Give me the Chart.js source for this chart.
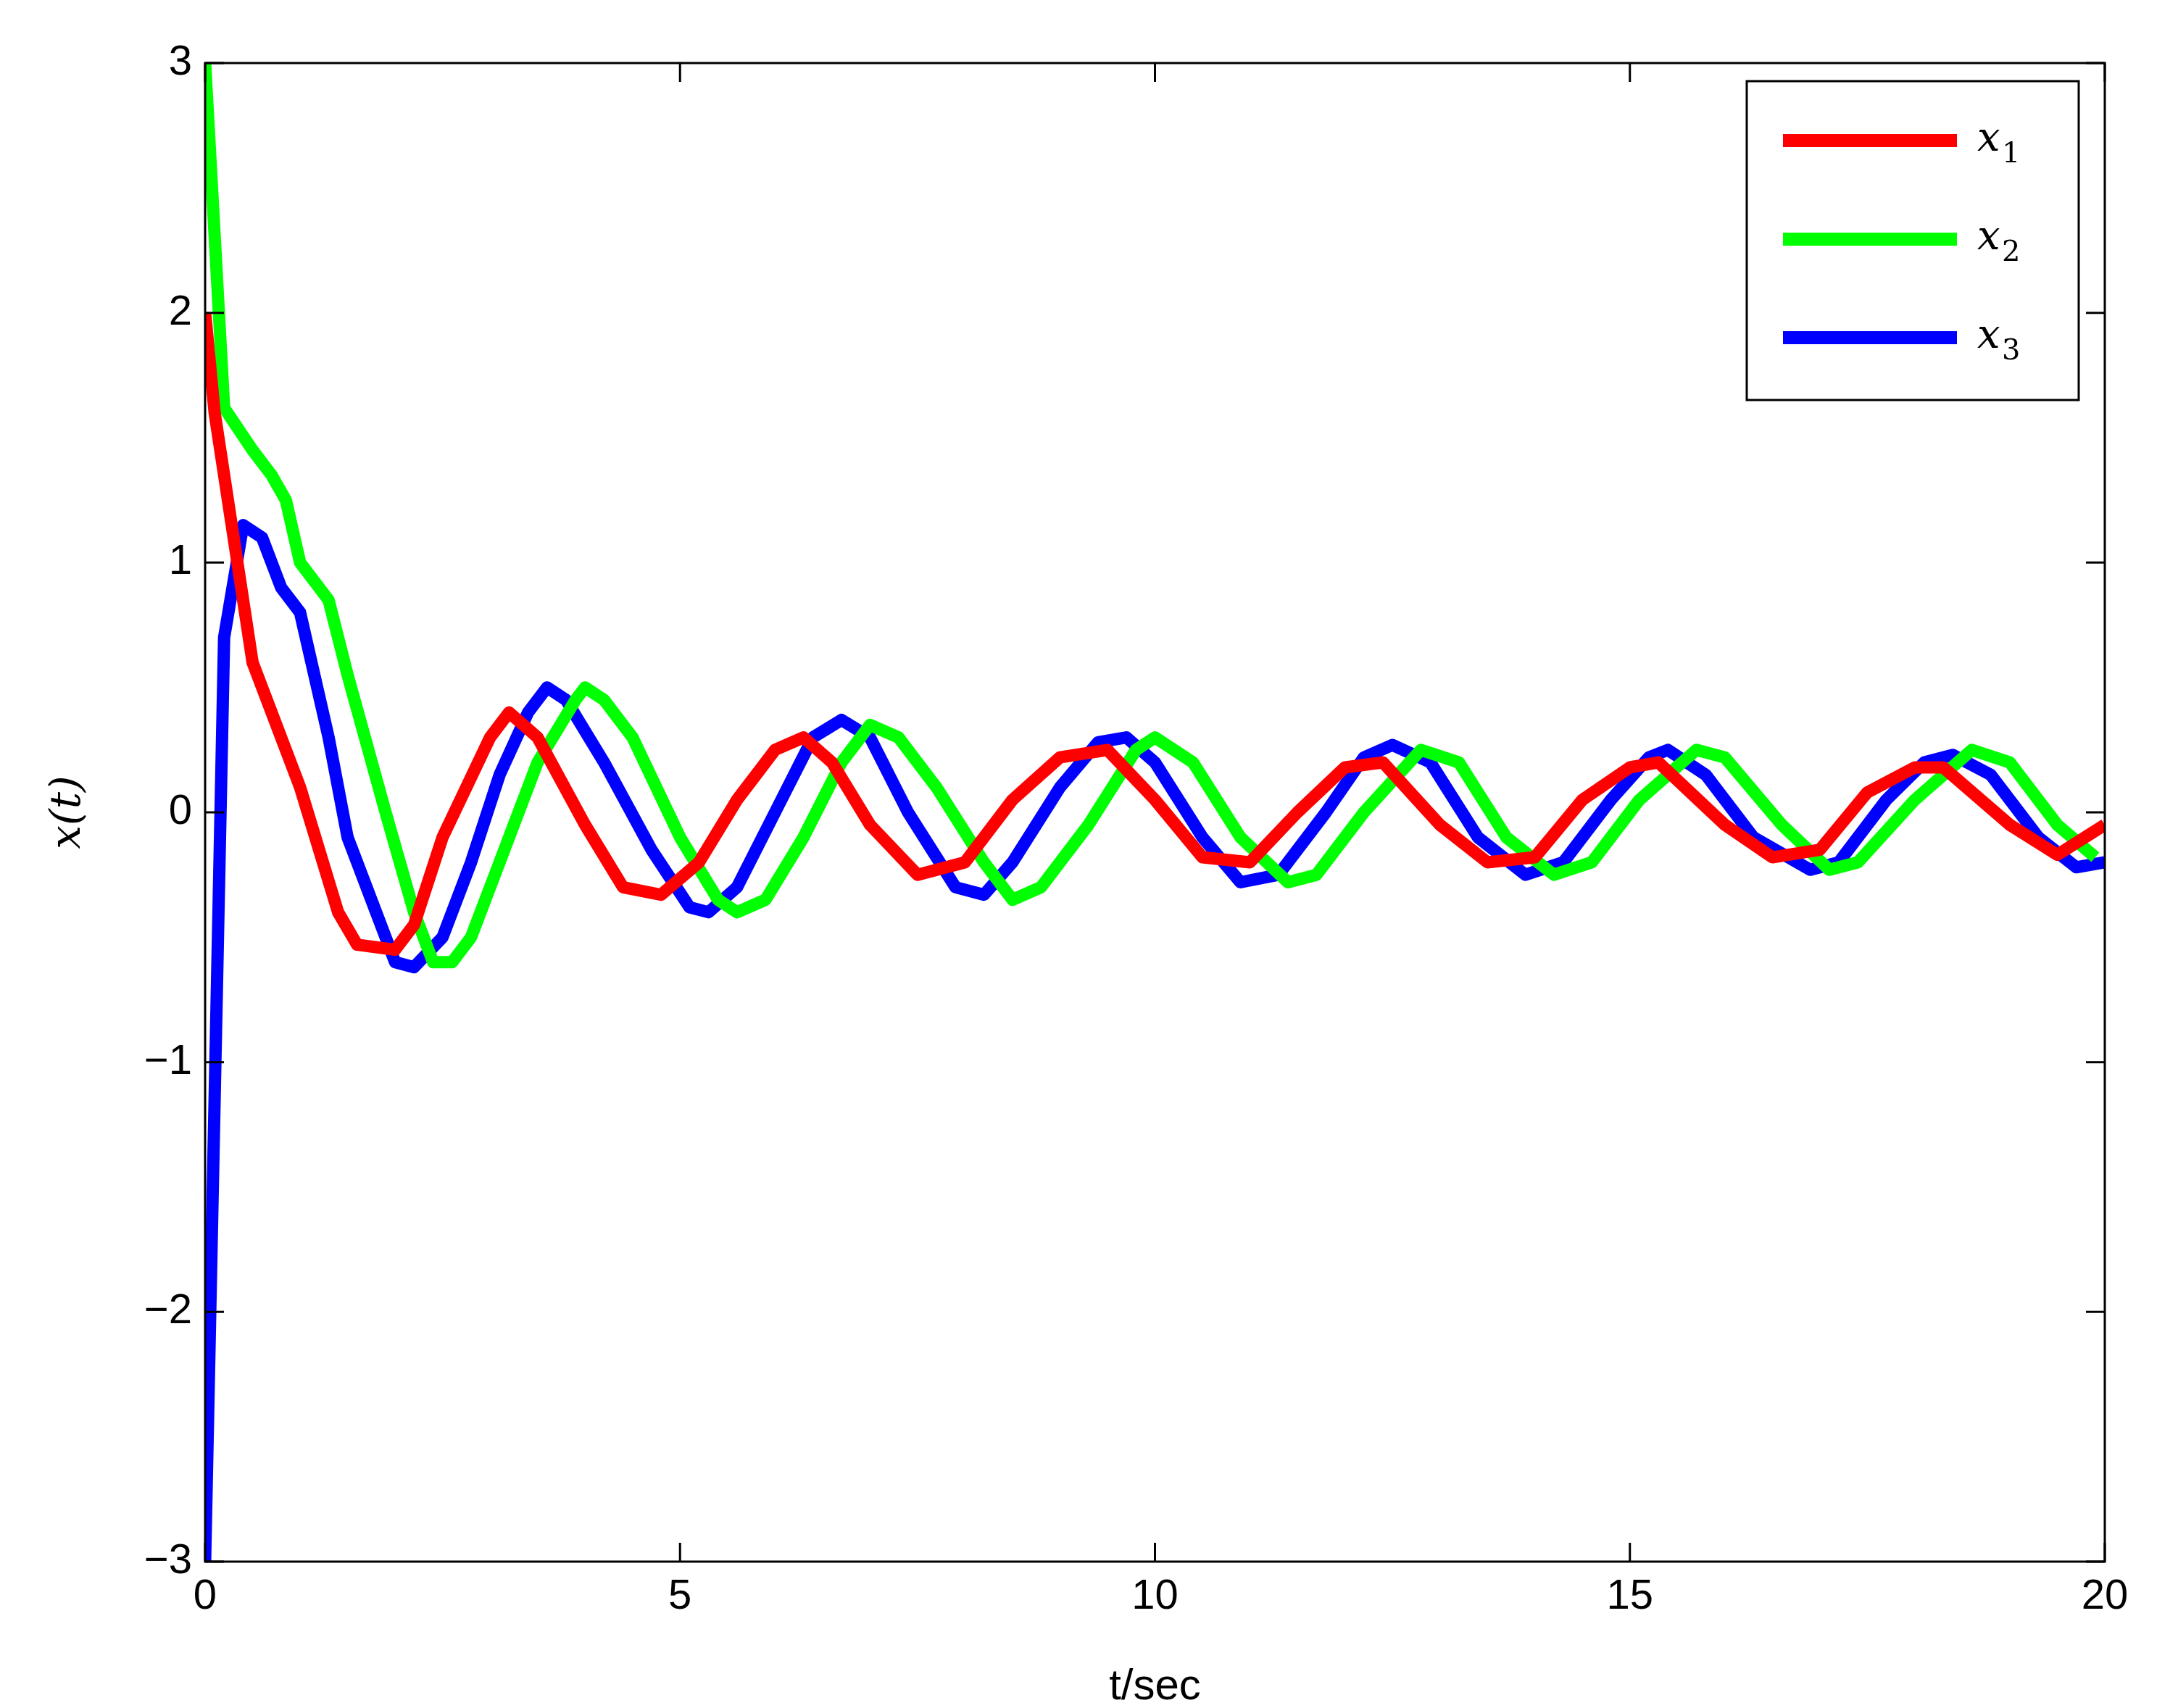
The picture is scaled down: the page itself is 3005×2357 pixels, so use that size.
<!DOCTYPE html>
<html lang="en">
<head>
<meta charset="UTF-8">
<title>x(t)</title>
<script src="https://cdn.jsdelivr.net/npm/chart.js"></script>
<style>body{margin:0;background:#fff}</style>
</head>
<body>
<canvas id="c" width="3005" height="2357" style="width:3005px;height:2357px"></canvas>
<script>
// series values
const t1 = [0,0.1,0.5,1,1.4,1.6,2,2.2,2.5,3,3.2,3.5,4,4.4,4.8,5.2,5.6,6,6.3,6.6,7,7.5,8,8.5,9,9.5,10,10.5,11,11.5,12,12.4,13,13.5,14,14.5,15,15.3,16,16.5,17,17.5,18,18.3,19,19.5,20];
const x1 = [2,1.6,0.6,0.1,-0.4,-0.53,-0.55,-0.45,-0.1,0.3,0.4,0.3,-0.05,-0.3,-0.33,-0.2,0.05,0.25,0.3,0.2,-0.05,-0.25,-0.2,0.05,0.22,0.25,0.05,-0.18,-0.2,0,0.18,0.2,-0.05,-0.2,-0.18,0.05,0.18,0.2,-0.05,-0.18,-0.15,0.08,0.18,0.18,-0.05,-0.17,-0.05];
const t2 = [0,0.2,0.5,0.7,0.85,1,1.3,1.5,1.9,2.2,2.4,2.6,2.8,3.1,3.5,3.9,4,4.2,4.5,5,5.4,5.6,5.9,6.3,6.7,7,7.3,7.7,8.2,8.5,8.8,9.3,9.8,10,10.4,10.9,11.4,11.7,12.2,12.8,13.2,13.7,14.2,14.6,15.1,15.7,16,16.6,17.1,17.4,18,18.6,19,19.5,19.9];
const x2 = [3,1.62,1.45,1.35,1.25,1,0.85,0.55,0,-0.4,-0.6,-0.6,-0.5,-0.2,0.2,0.45,0.5,0.45,0.3,-0.1,-0.35,-0.4,-0.35,-0.1,0.2,0.35,0.3,0.1,-0.2,-0.35,-0.3,-0.05,0.25,0.3,0.2,-0.1,-0.28,-0.25,0,0.25,0.2,-0.1,-0.25,-0.2,0.05,0.25,0.22,-0.05,-0.23,-0.2,0.05,0.25,0.2,-0.05,-0.18];
const t3 = [0,0.2,0.4,0.6,0.8,1,1.3,1.5,1.8,2,2.2,2.5,2.8,3.1,3.4,3.6,3.8,4.2,4.7,5.1,5.3,5.6,6,6.4,6.7,7,7.4,7.9,8.2,8.5,9,9.4,9.7,10,10.5,10.9,11.3,11.8,12.2,12.5,12.9,13.4,13.9,14.3,14.8,15.2,15.4,15.8,16.3,16.9,17.2,17.7,18.1,18.4,18.8,19.3,19.7,20];
const x3 = [-3,0.7,1.15,1.1,0.9,0.8,0.3,-0.1,-0.4,-0.6,-0.62,-0.5,-0.2,0.15,0.4,0.5,0.45,0.2,-0.15,-0.38,-0.4,-0.3,0,0.3,0.37,0.3,0,-0.3,-0.33,-0.2,0.1,0.28,0.3,0.2,-0.1,-0.28,-0.25,0,0.22,0.27,0.2,-0.1,-0.25,-0.2,0.05,0.22,0.25,0.15,-0.1,-0.23,-0.2,0.05,0.2,0.23,0.15,-0.1,-0.22,-0.2];
const xTicks = [0,5,10,15,20];
const yTicks = [-3,-2,-1,0,1,2,3];

const pts = (t, v) => t.map((x, i) => ({x: x, y: v[i]}));
const minus = v => String(v).replace('-', '\u2212');

const frame = {
  id: 'frame',
  afterDraw(chart) {
    const {ctx, chartArea: a, scales: {x, y}} = chart;
    ctx.save();
    ctx.strokeStyle = '#000';
    ctx.lineWidth = 3;
    ctx.strokeRect(a.left, a.top, a.right - a.left, a.bottom - a.top);
    const L = 26;
    ctx.beginPath();
    xTicks.forEach(v => {
      const p = x.getPixelForValue(v);
      ctx.moveTo(p, a.bottom); ctx.lineTo(p, a.bottom - L);
      ctx.moveTo(p, a.top); ctx.lineTo(p, a.top + L);
    });
    yTicks.forEach(v => {
      const p = y.getPixelForValue(v);
      ctx.moveTo(a.left, p); ctx.lineTo(a.left + L, p);
      ctx.moveTo(a.right, p); ctx.lineTo(a.right - L, p);
    });
    ctx.stroke();
    // axis titles
    ctx.fillStyle = '#000';
    ctx.textAlign = 'center';
    ctx.textBaseline = 'alphabetic';
    ctx.font = '60px "Liberation Sans"';
    ctx.fillText('t/sec', (a.left + a.right) / 2, 2345);
    ctx.save();
    ctx.translate(110, (a.top + a.bottom) / 2);
    ctx.rotate(-Math.PI / 2);
    ctx.font = 'italic 58px "DejaVu Serif"';
    ctx.fillText('x(t)', 0, 0);
    ctx.restore();
    // legend
    const bx = 2410, by = 112, bw = 458, bh = 440;
    ctx.fillStyle = '#fff';
    ctx.fillRect(bx, by, bw, bh);
    ctx.strokeRect(bx, by, bw, bh);
    chart.data.datasets.forEach((d, i) => {
      const cy = by + 82 + i * 136;
      ctx.strokeStyle = d.borderColor;
      ctx.lineWidth = 18;
      ctx.beginPath();
      ctx.moveTo(bx + 50, cy); ctx.lineTo(bx + 290, cy);
      ctx.stroke();
      ctx.fillStyle = '#000';
      ctx.textAlign = 'left';
      ctx.font = 'italic 56px "DejaVu Serif"';
      ctx.fillText('x', bx + 318, cy + 14);
      ctx.font = '40px "DejaVu Serif"';
      ctx.fillText(String(i + 1), bx + 352, cy + 30);
    });
    ctx.restore();
  }
};

new Chart(document.getElementById('c').getContext('2d'), {
  type: 'line',
  data: {
    datasets: [
      {label: 'x1', data: pts(t1, x1), borderColor: '#ff0000'},
      {label: 'x2', data: pts(t2, x2), borderColor: '#00ff00'},
      {label: 'x3', data: pts(t3, x3), borderColor: '#0000ff'}
    ].map(d => Object.assign(d, {borderWidth: 17, pointRadius: 0, tension: 0, fill: false, borderJoinStyle: 'round'}))
  },
  options: {
    responsive: false,
    animation: false,
    devicePixelRatio: 1,
    layout: {padding: {left: 133, top: 87, right: 101, bottom: 102}},
    plugins: {legend: {display: false}, tooltip: {enabled: false}},
    scales: {
      x: {
        type: 'linear', min: 0, max: 20,
        afterBuildTicks: s => { s.ticks = xTicks.map(v => ({value: v})); },
        afterFit: s => { s.height = 100; },
        grid: {display: false, drawTicks: false},
        border: {display: false},
        ticks: {color: '#000', font: {size: 58, family: 'Liberation Sans'}, padding: 14, maxRotation: 0, callback: minus}
      },
      y: {
        type: 'linear', min: -3, max: 3,
        afterBuildTicks: s => { s.ticks = yTicks.map(v => ({value: v})); },
        afterFit: s => { s.width = 150; },
        grid: {display: false, drawTicks: false},
        border: {display: false},
        ticks: {color: '#000', font: {size: 58, family: 'Liberation Sans'}, padding: 18, callback: minus}
      }
    }
  },
  plugins: [frame]
});
</script>
</body>
</html>
